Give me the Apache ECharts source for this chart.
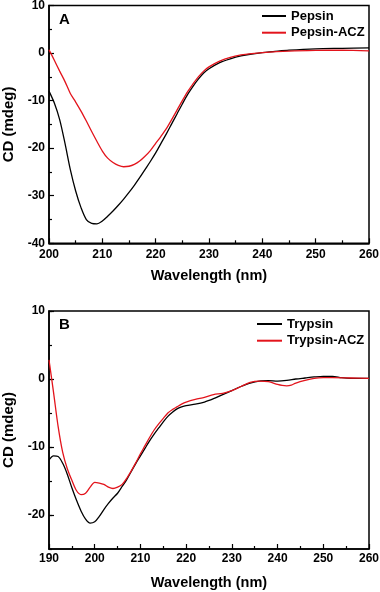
<!DOCTYPE html>
<html>
<head>
<meta charset="utf-8">
<script src="https://cdn.jsdelivr.net/npm/echarts@6/dist/echarts.min.js"></script>
<style>html,body{margin:0;padding:0;background:#fff}#c{width:380px;height:592px}</style>
</head>
<body>
<div id="c"></div>
<script>
// Panel A: Pepsin
const pepsinX = [200,201,202,203,204,205,206,207,208,209,210,211,212,213,214,215,216,217,218,219,220,221,222,223,224,225,226,227,228,229,230,232,234,236,238,240,242,245,250,255,260];
const pepsin = [-8,-10.5,-14,-19,-24.5,-29,-32.5,-35,-35.8,-35.9,-35.3,-34.3,-33.2,-32,-30.7,-29.3,-27.8,-26.2,-24.5,-22.8,-21,-19,-17,-14.9,-12.8,-10.7,-8.7,-7,-5.5,-4.2,-3.3,-2.0,-1.2,-0.6,-0.2,0.1,0.3,0.6,0.9,1.0,1.1];
const pepsinAczX = [200,201,202,203,204,205,206,207,208,209,210,211,212,213,214,215,216,217,218,219,220,221,222,223,224,225,226,227,228,229,230,232,234,236,238,240,245,250,255,260];
const pepsinAcz = [0.7,-1.5,-3.8,-6,-8.5,-10.3,-12.2,-14.3,-16.5,-18.6,-20.6,-22.1,-23,-23.6,-23.9,-23.8,-23.4,-22.7,-21.7,-20.5,-19.0,-17.5,-15.9,-14.0,-12.0,-10.0,-8.1,-6.5,-5.0,-3.8,-2.9,-1.7,-0.9,-0.4,-0.1,0.1,0.4,0.55,0.6,0.45];

// Panel B: Trypsin
const trypsinX = [190,191,192,193,194,195,196,197,198,199,200,201,202,203,204,205,206,207,208,209,210,211,212,213,214,215,216,217,218,219,220,222,224,226,228,230,232,234,236,238,240,242,244,246,248,250,252,254,256,260];
const trypsin = [-11.9,-11.3,-11.4,-12.4,-14,-16,-17.8,-19.4,-20.6,-21.2,-21,-20.2,-19.2,-18.3,-17.5,-16.8,-15.8,-14.8,-13.6,-12.4,-11.3,-10.2,-9.1,-8.1,-7.2,-6.3,-5.5,-4.9,-4.4,-4.1,-3.9,-3.7,-3.4,-2.9,-2.3,-1.7,-1.1,-0.6,-0.3,-0.25,-0.3,-0.2,0,0.15,0.3,0.4,0.4,0.2,0.1,0.1];
const trypsinAczX = [190,191,192,193,194,195,196,197,198,199,200,201,202,203,204,205,206,207,208,209,210,211,212,213,214,215,216,217,218,219,220,222,224,226,228,230,232,234,236,238,240,241,242,243,244,246,248,250,252,256,260];
const trypsinAcz = [2.8,-2,-7,-10.8,-13.2,-14.9,-16.4,-17.0,-16.8,-15.9,-15.2,-15.3,-15.5,-15.9,-16.1,-15.9,-15.5,-14.6,-13.5,-12.3,-11.0,-9.8,-8.6,-7.5,-6.6,-5.8,-5.0,-4.5,-4.1,-3.7,-3.4,-3.0,-2.7,-2.3,-2.1,-1.7,-1.1,-0.5,-0.3,-0.4,-0.8,-0.95,-1.0,-0.9,-0.6,-0.2,0.1,0.2,0.2,0.15,0.1];

const labelsBY = [-20,-10,0,10];

const pair = (xs, ys) => xs.map((x, i) => [x, ys[i]]);
const FONT = "'Liberation Sans', Arial, sans-serif";
const RED = '#e3141c';
const TICK = { color: '#000', width: 1.2 };

function xAxisCfg(gi, min, gap, margin) {
  return {
    type: 'value', gridIndex: gi, min: min, max: 260, interval: 10,
    axisLine: { show: true, onZero: false, lineStyle: { color: '#000', width: 1.5 } },
    axisTick: { show: true, inside: true, length: 5, lineStyle: TICK },
    minorTick: { show: true, splitNumber: 2, length: 3, lineStyle: TICK },
    splitLine: { show: false },
    axisLabel: { color: '#000', fontFamily: FONT, fontWeight: 'bold', fontSize: 12, margin: margin },
    name: 'Wavelength (nm)', nameLocation: 'middle', nameGap: gap,
    nameTextStyle: { color: '#000', fontFamily: FONT, fontWeight: 'bold', fontSize: 14.5 }
  };
}
const yName = { color: '#000', fontFamily: FONT, fontWeight: 'bold', fontSize: 15 };

const option = {
  animation: false,
  backgroundColor: '#fff',
  grid: [
    { left: 49, right: 11, top: 5.5, height: 237.8, show: true, borderColor: '#000', borderWidth: 1.5, containLabel: false, outerBoundsMode: 'none' },
    { left: 49, right: 11, top: 311, height: 238, show: true, borderColor: '#000', borderWidth: 1.5, containLabel: false, outerBoundsMode: 'none' }
  ],
  xAxis: [ xAxisCfg(0, 200, 25, 5), xAxisCfg(1, 190, 26, 4) ],
  yAxis: [
    {
      type: 'value', gridIndex: 0, position: 'left', min: -40, max: 10, interval: 10,
      axisLine: { show: true, onZero: false, lineStyle: { color: '#000', width: 1.5 } },
      axisTick: { show: true, inside: true, length: 5, lineStyle: TICK },
      minorTick: { show: true, splitNumber: 2, length: 3, lineStyle: TICK },
      splitLine: { show: false },
      axisLabel: { color: '#000', fontFamily: FONT, fontWeight: 'bold', fontSize: 12, margin: 4 },
      name: 'CD (mdeg)', nameLocation: 'middle', nameGap: 30, nameTextStyle: yName
    },
    {
      type: 'value', gridIndex: 1, position: 'left', min: -25, max: 10, interval: 5,
      axisLine: { show: true, onZero: false, lineStyle: { color: '#000', width: 1.5 } },
      axisTick: { show: true, inside: true, length: 3, lineStyle: TICK },
      splitLine: { show: false },
      axisLabel: { color: '#000', fontFamily: FONT, fontWeight: 'bold', fontSize: 12, margin: 4, customValues: labelsBY },
      name: 'CD (mdeg)', nameLocation: 'middle', nameGap: 30, nameTextStyle: yName
    },
    {
      type: 'value', gridIndex: 1, position: 'left', offset: 0, min: -25, max: 10, interval: 5,
      axisLine: { show: false, onZero: false },
      axisTick: { show: true, inside: true, length: 5, customValues: labelsBY, lineStyle: TICK },
      splitLine: { show: false },
      axisLabel: { show: false }
    }
  ],
  legend: [
    {
      data: ['Pepsin', 'Pepsin-ACZ'], orient: 'vertical', left: 262, top: 9, padding: 0,
      itemWidth: 24, itemHeight: 2, itemGap: 2.7, icon: 'rect', selectedMode: false,
      textStyle: { color: '#000', fontFamily: FONT, fontWeight: 'bold', fontSize: 13, lineHeight: 14 }
    },
    {
      data: ['Trypsin', 'Trypsin-ACZ'], orient: 'vertical', left: 257, top: 317, padding: 0,
      itemWidth: 25, itemHeight: 2, itemGap: 2.7, icon: 'rect', selectedMode: false,
      textStyle: { color: '#000', fontFamily: FONT, fontWeight: 'bold', fontSize: 13, lineHeight: 14 }
    }
  ],
  graphic: [
    { type: 'text', left: 59, top: 12, style: { text: 'A', font: "bold 15px 'Liberation Sans', Arial", fill: '#000' } },
    { type: 'text', left: 59, top: 317, style: { text: 'B', font: "bold 15px 'Liberation Sans', Arial", fill: '#000' } }
  ],
  series: [
    { name: 'Pepsin', type: 'line', xAxisIndex: 0, yAxisIndex: 0, data: pair(pepsinX, pepsin), smooth: 0.3, showSymbol: false, symbol: 'none', lineStyle: { color: '#000', width: 1.3 }, itemStyle: { color: '#000' } },
    { name: 'Pepsin-ACZ', type: 'line', xAxisIndex: 0, yAxisIndex: 0, data: pair(pepsinAczX, pepsinAcz), smooth: 0.3, showSymbol: false, symbol: 'none', lineStyle: { color: RED, width: 1.3 }, itemStyle: { color: RED } },
    { name: 'Trypsin', type: 'line', xAxisIndex: 1, yAxisIndex: 1, data: pair(trypsinX, trypsin), smooth: 0.3, showSymbol: false, symbol: 'none', lineStyle: { color: '#000', width: 1.3 }, itemStyle: { color: '#000' } },
    { name: 'Trypsin-ACZ', type: 'line', xAxisIndex: 1, yAxisIndex: 1, data: pair(trypsinAczX, trypsinAcz), smooth: 0.3, showSymbol: false, symbol: 'none', lineStyle: { color: RED, width: 1.3 }, itemStyle: { color: RED } }
  ]
};

const chart = echarts.init(document.getElementById('c'), null, { renderer: 'canvas' });
chart.setOption(option);
</script>
</body>
</html>
